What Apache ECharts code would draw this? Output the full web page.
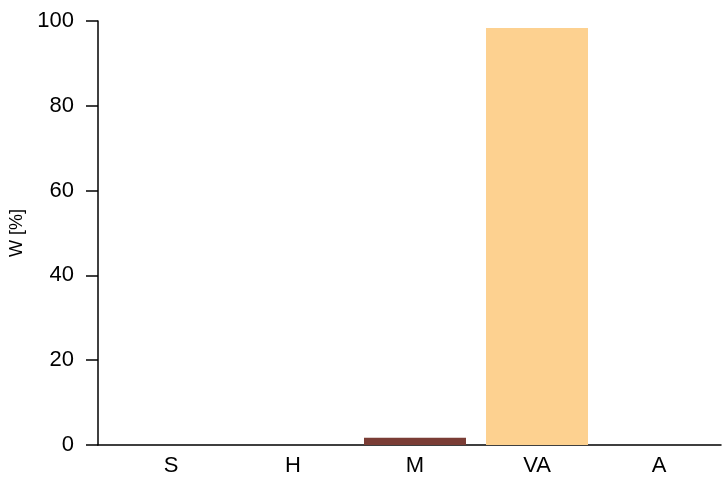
<!DOCTYPE html>
<html>
<head>
<meta charset="utf-8">
<script src="https://cdn.jsdelivr.net/npm/echarts@6/dist/echarts.min.js"></script>
<style>html,body{margin:0;padding:0;background:#fff}#c{width:722px;height:489px}</style>
</head>
<body>
<div id="c"></div>
<script>
const categories = ['S', 'H', 'M', 'VA', 'A'];
const values = [0, 0, 1.7, 98.35, 0];
const barColors = ['#7a3d35', '#7a3d35', '#7a3d35', '#fdd190', '#fdd190'];
const yTicks = [0, 20, 40, 60, 80, 100];

const chart = echarts.init(document.getElementById('c'), null, {renderer: 'canvas'});
const font = 'Liberation Sans, Arial, Helvetica, sans-serif';
chart.setOption({
  animation: false,
  backgroundColor: '#fff',
  grid: [
    {left: 110, right: 2, top: 21, bottom: 44},
    {left: 98, right: 1, top: 21, bottom: 44}
  ],
  xAxis: [
    {
      type: 'category', gridIndex: 0, data: categories,
      axisLine: {show: false}, axisTick: {show: false},
      axisLabel: {color: '#000', fontSize: 22, fontFamily: font, margin: 10}
    },
    {
      type: 'value', gridIndex: 1, min: 0, max: 1,
      axisLine: {show: true, lineStyle: {color: '#000', width: 1.5}},
      axisTick: {show: false}, axisLabel: {show: false}, splitLine: {show: false}
    }
  ],
  yAxis: [
    {
      type: 'value', gridIndex: 0, min: yTicks[0], max: yTicks[yTicks.length - 1], interval: 20,
      offset: 12,
      name: 'W [%]', nameLocation: 'middle', nameGap: 67,
      nameTextStyle: {color: '#000', fontSize: 18, fontFamily: font},
      axisLine: {show: true, lineStyle: {color: '#000', width: 1.5}},
      axisTick: {show: true, length: 12, lineStyle: {color: '#000', width: 1.5}},
      axisLabel: {color: '#000', fontSize: 22, fontFamily: font, margin: 24},
      splitLine: {show: false}
    },
    {
      type: 'value', gridIndex: 1, min: 0, max: 1, show: false
    }
  ],
  series: [{
    type: 'bar', xAxisIndex: 0, yAxisIndex: 0,
    barCategoryGap: '16.4%',
    data: values.map((v, i) => ({value: v, itemStyle: {color: barColors[i]}}))
  }]
});
</script>
</body>
</html>
